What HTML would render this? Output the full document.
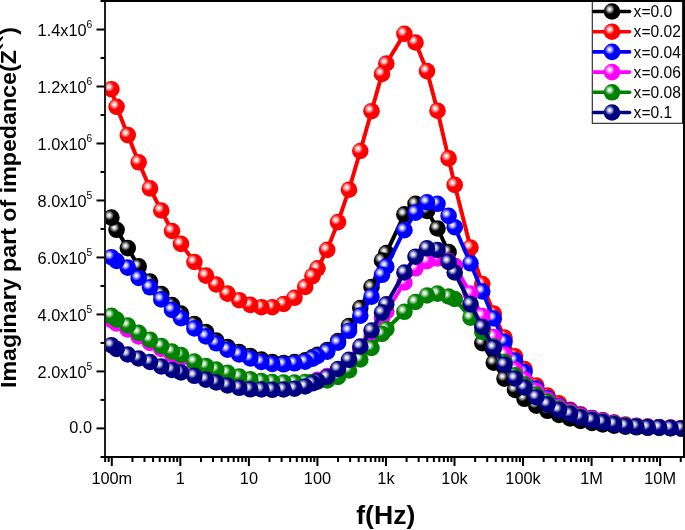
<!DOCTYPE html><html><head><meta charset="utf-8"><style>
html,body{margin:0;padding:0;background:#fff;}
svg{display:block;will-change:transform;}
text{font-family:"Liberation Sans",sans-serif;fill:#000;}
</style></head><body>
<svg width="685" height="530" viewBox="0 0 685 530">
<defs>
<radialGradient id="h" cx="0.5" cy="0.5" r="0.5">
<stop offset="0" stop-color="#fff" stop-opacity="1"/>
<stop offset="0.3" stop-color="#fff" stop-opacity="0.85"/>
<stop offset="1" stop-color="#fff" stop-opacity="0"/>
</radialGradient>
<clipPath id="plot"><rect x="105" y="1" width="578.5" height="456"/></clipPath>
</defs>
<rect width="685" height="530" fill="#fff"/>
<g clip-path="url(#plot)">
<path d="M111.4 217.6 L116.6 229.8 L127.8 248.1 L138.7 266.4 L150 281.5 L161.3 294 L172 305 L181 313.5 L194.4 324 L206 332 L216.3 340.5 L227.6 347 L239.2 352 L250.3 356 L261.4 359.5 L272.3 362 L283.6 363 L294.5 362 L305.2 360.3 L312.5 357.3 L317.5 354.8 L327.2 350 L338 341 L349 326 L360.3 308 L371.5 287 L382 260.5 L386.3 253 L404.4 214.4 L415.5 203.8 L427 211 L437.5 228.5 L448.6 252 L454.7 266 L470.5 308 L482.3 343.1 L493.8 362.7 L504.5 378.6 L515 390 L524.5 398.8 L536.3 405.6 L547.5 410.8 L559 414.9 L570.1 418.5 L580.5 421 L592 423 L602.8 424.5 L614.1 425.7 L625.4 426.7 L636.4 427.3 L647.7 427.8 L659.2 428 L670.5 428.3 L681.4 428.6" fill="none" stroke="#000000" stroke-width="4.0" stroke-linejoin="round"/>
<circle cx="681.4" cy="428.6" r="8.3" fill="#000000"/><circle cx="679.1" cy="426.3" r="5.0" fill="url(#h)"/><circle cx="670.5" cy="428.3" r="8.3" fill="#000000"/><circle cx="668.2" cy="426" r="5.0" fill="url(#h)"/><circle cx="659.2" cy="428" r="8.3" fill="#000000"/><circle cx="656.9" cy="425.7" r="5.0" fill="url(#h)"/><circle cx="647.7" cy="427.8" r="8.3" fill="#000000"/><circle cx="645.4" cy="425.5" r="5.0" fill="url(#h)"/><circle cx="636.4" cy="427.3" r="8.3" fill="#000000"/><circle cx="634.1" cy="425" r="5.0" fill="url(#h)"/><circle cx="625.4" cy="426.7" r="8.3" fill="#000000"/><circle cx="623.1" cy="424.4" r="5.0" fill="url(#h)"/><circle cx="614.1" cy="425.7" r="8.3" fill="#000000"/><circle cx="611.8" cy="423.4" r="5.0" fill="url(#h)"/><circle cx="602.8" cy="424.5" r="8.3" fill="#000000"/><circle cx="600.5" cy="422.2" r="5.0" fill="url(#h)"/><circle cx="592" cy="423" r="8.3" fill="#000000"/><circle cx="589.7" cy="420.7" r="5.0" fill="url(#h)"/><circle cx="580.5" cy="421" r="8.3" fill="#000000"/><circle cx="578.2" cy="418.7" r="5.0" fill="url(#h)"/><circle cx="570.1" cy="418.5" r="8.3" fill="#000000"/><circle cx="567.8" cy="416.2" r="5.0" fill="url(#h)"/><circle cx="559" cy="414.9" r="8.3" fill="#000000"/><circle cx="556.7" cy="412.6" r="5.0" fill="url(#h)"/><circle cx="547.5" cy="410.8" r="8.3" fill="#000000"/><circle cx="545.2" cy="408.5" r="5.0" fill="url(#h)"/><circle cx="536.3" cy="405.6" r="8.3" fill="#000000"/><circle cx="534" cy="403.3" r="5.0" fill="url(#h)"/><circle cx="524.5" cy="398.8" r="8.3" fill="#000000"/><circle cx="522.2" cy="396.5" r="5.0" fill="url(#h)"/><circle cx="515" cy="390" r="8.3" fill="#000000"/><circle cx="512.7" cy="387.7" r="5.0" fill="url(#h)"/><circle cx="504.5" cy="378.6" r="8.3" fill="#000000"/><circle cx="502.2" cy="376.3" r="5.0" fill="url(#h)"/><circle cx="493.8" cy="362.7" r="8.3" fill="#000000"/><circle cx="491.5" cy="360.4" r="5.0" fill="url(#h)"/><circle cx="482.3" cy="343.1" r="8.3" fill="#000000"/><circle cx="480" cy="340.8" r="5.0" fill="url(#h)"/><circle cx="470.5" cy="308" r="8.3" fill="#000000"/><circle cx="468.2" cy="305.7" r="5.0" fill="url(#h)"/><circle cx="454.7" cy="266" r="8.3" fill="#000000"/><circle cx="452.4" cy="263.7" r="5.0" fill="url(#h)"/><circle cx="448.6" cy="252" r="8.3" fill="#000000"/><circle cx="446.3" cy="249.7" r="5.0" fill="url(#h)"/><circle cx="437.5" cy="228.5" r="8.3" fill="#000000"/><circle cx="435.2" cy="226.2" r="5.0" fill="url(#h)"/><circle cx="427" cy="211" r="8.3" fill="#000000"/><circle cx="424.7" cy="208.7" r="5.0" fill="url(#h)"/><circle cx="415.5" cy="203.8" r="8.3" fill="#000000"/><circle cx="413.2" cy="201.5" r="5.0" fill="url(#h)"/><circle cx="404.4" cy="214.4" r="8.3" fill="#000000"/><circle cx="402.1" cy="212.1" r="5.0" fill="url(#h)"/><circle cx="386.3" cy="253" r="8.3" fill="#000000"/><circle cx="384" cy="250.7" r="5.0" fill="url(#h)"/><circle cx="382" cy="260.5" r="8.3" fill="#000000"/><circle cx="379.7" cy="258.2" r="5.0" fill="url(#h)"/><circle cx="371.5" cy="287" r="8.3" fill="#000000"/><circle cx="369.2" cy="284.7" r="5.0" fill="url(#h)"/><circle cx="360.3" cy="308" r="8.3" fill="#000000"/><circle cx="358" cy="305.7" r="5.0" fill="url(#h)"/><circle cx="349" cy="326" r="8.3" fill="#000000"/><circle cx="346.7" cy="323.7" r="5.0" fill="url(#h)"/><circle cx="338" cy="341" r="8.3" fill="#000000"/><circle cx="335.7" cy="338.7" r="5.0" fill="url(#h)"/><circle cx="327.2" cy="350" r="8.3" fill="#000000"/><circle cx="324.9" cy="347.7" r="5.0" fill="url(#h)"/><circle cx="317.5" cy="354.8" r="8.3" fill="#000000"/><circle cx="315.2" cy="352.5" r="5.0" fill="url(#h)"/><circle cx="312.5" cy="357.3" r="8.3" fill="#000000"/><circle cx="310.2" cy="355" r="5.0" fill="url(#h)"/><circle cx="305.2" cy="360.3" r="8.3" fill="#000000"/><circle cx="302.9" cy="358" r="5.0" fill="url(#h)"/><circle cx="294.5" cy="362" r="8.3" fill="#000000"/><circle cx="292.2" cy="359.7" r="5.0" fill="url(#h)"/><circle cx="283.6" cy="363" r="8.3" fill="#000000"/><circle cx="281.3" cy="360.7" r="5.0" fill="url(#h)"/><circle cx="272.3" cy="362" r="8.3" fill="#000000"/><circle cx="270" cy="359.7" r="5.0" fill="url(#h)"/><circle cx="261.4" cy="359.5" r="8.3" fill="#000000"/><circle cx="259.1" cy="357.2" r="5.0" fill="url(#h)"/><circle cx="250.3" cy="356" r="8.3" fill="#000000"/><circle cx="248" cy="353.7" r="5.0" fill="url(#h)"/><circle cx="239.2" cy="352" r="8.3" fill="#000000"/><circle cx="236.9" cy="349.7" r="5.0" fill="url(#h)"/><circle cx="227.6" cy="347" r="8.3" fill="#000000"/><circle cx="225.3" cy="344.7" r="5.0" fill="url(#h)"/><circle cx="216.3" cy="340.5" r="8.3" fill="#000000"/><circle cx="214" cy="338.2" r="5.0" fill="url(#h)"/><circle cx="206" cy="332" r="8.3" fill="#000000"/><circle cx="203.7" cy="329.7" r="5.0" fill="url(#h)"/><circle cx="194.4" cy="324" r="8.3" fill="#000000"/><circle cx="192.1" cy="321.7" r="5.0" fill="url(#h)"/><circle cx="181" cy="313.5" r="8.3" fill="#000000"/><circle cx="178.7" cy="311.2" r="5.0" fill="url(#h)"/><circle cx="172" cy="305" r="8.3" fill="#000000"/><circle cx="169.7" cy="302.7" r="5.0" fill="url(#h)"/><circle cx="161.3" cy="294" r="8.3" fill="#000000"/><circle cx="159" cy="291.7" r="5.0" fill="url(#h)"/><circle cx="150" cy="281.5" r="8.3" fill="#000000"/><circle cx="147.7" cy="279.2" r="5.0" fill="url(#h)"/><circle cx="138.7" cy="266.4" r="8.3" fill="#000000"/><circle cx="136.4" cy="264.1" r="5.0" fill="url(#h)"/><circle cx="127.8" cy="248.1" r="8.3" fill="#000000"/><circle cx="125.5" cy="245.8" r="5.0" fill="url(#h)"/><circle cx="116.6" cy="229.8" r="8.3" fill="#000000"/><circle cx="114.3" cy="227.5" r="5.0" fill="url(#h)"/><circle cx="111.4" cy="217.6" r="8.3" fill="#000000"/><circle cx="109.1" cy="215.3" r="5.0" fill="url(#h)"/>
<path d="M111.4 89.2 L116.6 106.8 L127.8 135.1 L138.7 162.3 L150 188.4 L161.3 210.5 L172 231 L181 243.9 L194.4 262 L206 275.6 L216.3 284.5 L227.6 293.6 L239.2 300.2 L250.3 304.9 L261.4 307.2 L272.3 307.2 L283.6 304 L294.5 297.8 L305.2 287 L312.5 276.2 L317.5 268.3 L327.2 249.9 L338 222.1 L349 189.7 L360.3 151 L371.5 111.2 L382 74 L386.3 63.5 L404.4 33.8 L415.5 42.5 L427 71.1 L437.5 110.7 L448.6 158.4 L454.7 184.9 L470.5 247.5 L482.3 284 L493.8 313.5 L504.5 337.5 L515 356.3 L524.5 369 L536.3 385.5 L547.5 395.6 L559 403.4 L570.1 409.8 L580.5 414.3 L592 418 L602.8 420.3 L614.1 422.5 L625.4 424.5 L636.4 425.7 L647.7 426.5 L659.2 427 L670.5 427.5 L681.4 428" fill="none" stroke="#ff0000" stroke-width="4.0" stroke-linejoin="round"/>
<circle cx="681.4" cy="428" r="8.3" fill="#ff0000"/><circle cx="679.1" cy="425.7" r="5.0" fill="url(#h)"/><circle cx="670.5" cy="427.5" r="8.3" fill="#ff0000"/><circle cx="668.2" cy="425.2" r="5.0" fill="url(#h)"/><circle cx="659.2" cy="427" r="8.3" fill="#ff0000"/><circle cx="656.9" cy="424.7" r="5.0" fill="url(#h)"/><circle cx="647.7" cy="426.5" r="8.3" fill="#ff0000"/><circle cx="645.4" cy="424.2" r="5.0" fill="url(#h)"/><circle cx="636.4" cy="425.7" r="8.3" fill="#ff0000"/><circle cx="634.1" cy="423.4" r="5.0" fill="url(#h)"/><circle cx="625.4" cy="424.5" r="8.3" fill="#ff0000"/><circle cx="623.1" cy="422.2" r="5.0" fill="url(#h)"/><circle cx="614.1" cy="422.5" r="8.3" fill="#ff0000"/><circle cx="611.8" cy="420.2" r="5.0" fill="url(#h)"/><circle cx="602.8" cy="420.3" r="8.3" fill="#ff0000"/><circle cx="600.5" cy="418" r="5.0" fill="url(#h)"/><circle cx="592" cy="418" r="8.3" fill="#ff0000"/><circle cx="589.7" cy="415.7" r="5.0" fill="url(#h)"/><circle cx="580.5" cy="414.3" r="8.3" fill="#ff0000"/><circle cx="578.2" cy="412" r="5.0" fill="url(#h)"/><circle cx="570.1" cy="409.8" r="8.3" fill="#ff0000"/><circle cx="567.8" cy="407.5" r="5.0" fill="url(#h)"/><circle cx="559" cy="403.4" r="8.3" fill="#ff0000"/><circle cx="556.7" cy="401.1" r="5.0" fill="url(#h)"/><circle cx="547.5" cy="395.6" r="8.3" fill="#ff0000"/><circle cx="545.2" cy="393.3" r="5.0" fill="url(#h)"/><circle cx="536.3" cy="385.5" r="8.3" fill="#ff0000"/><circle cx="534" cy="383.2" r="5.0" fill="url(#h)"/><circle cx="524.5" cy="369" r="8.3" fill="#ff0000"/><circle cx="522.2" cy="366.7" r="5.0" fill="url(#h)"/><circle cx="515" cy="356.3" r="8.3" fill="#ff0000"/><circle cx="512.7" cy="354" r="5.0" fill="url(#h)"/><circle cx="504.5" cy="337.5" r="8.3" fill="#ff0000"/><circle cx="502.2" cy="335.2" r="5.0" fill="url(#h)"/><circle cx="493.8" cy="313.5" r="8.3" fill="#ff0000"/><circle cx="491.5" cy="311.2" r="5.0" fill="url(#h)"/><circle cx="482.3" cy="284" r="8.3" fill="#ff0000"/><circle cx="480" cy="281.7" r="5.0" fill="url(#h)"/><circle cx="470.5" cy="247.5" r="8.3" fill="#ff0000"/><circle cx="468.2" cy="245.2" r="5.0" fill="url(#h)"/><circle cx="454.7" cy="184.9" r="8.3" fill="#ff0000"/><circle cx="452.4" cy="182.6" r="5.0" fill="url(#h)"/><circle cx="448.6" cy="158.4" r="8.3" fill="#ff0000"/><circle cx="446.3" cy="156.1" r="5.0" fill="url(#h)"/><circle cx="437.5" cy="110.7" r="8.3" fill="#ff0000"/><circle cx="435.2" cy="108.4" r="5.0" fill="url(#h)"/><circle cx="427" cy="71.1" r="8.3" fill="#ff0000"/><circle cx="424.7" cy="68.8" r="5.0" fill="url(#h)"/><circle cx="415.5" cy="42.5" r="8.3" fill="#ff0000"/><circle cx="413.2" cy="40.2" r="5.0" fill="url(#h)"/><circle cx="404.4" cy="33.8" r="8.3" fill="#ff0000"/><circle cx="402.1" cy="31.5" r="5.0" fill="url(#h)"/><circle cx="386.3" cy="63.5" r="8.3" fill="#ff0000"/><circle cx="384" cy="61.2" r="5.0" fill="url(#h)"/><circle cx="382" cy="74" r="8.3" fill="#ff0000"/><circle cx="379.7" cy="71.7" r="5.0" fill="url(#h)"/><circle cx="371.5" cy="111.2" r="8.3" fill="#ff0000"/><circle cx="369.2" cy="108.9" r="5.0" fill="url(#h)"/><circle cx="360.3" cy="151" r="8.3" fill="#ff0000"/><circle cx="358" cy="148.7" r="5.0" fill="url(#h)"/><circle cx="349" cy="189.7" r="8.3" fill="#ff0000"/><circle cx="346.7" cy="187.4" r="5.0" fill="url(#h)"/><circle cx="338" cy="222.1" r="8.3" fill="#ff0000"/><circle cx="335.7" cy="219.8" r="5.0" fill="url(#h)"/><circle cx="327.2" cy="249.9" r="8.3" fill="#ff0000"/><circle cx="324.9" cy="247.6" r="5.0" fill="url(#h)"/><circle cx="317.5" cy="268.3" r="8.3" fill="#ff0000"/><circle cx="315.2" cy="266" r="5.0" fill="url(#h)"/><circle cx="312.5" cy="276.2" r="8.3" fill="#ff0000"/><circle cx="310.2" cy="273.9" r="5.0" fill="url(#h)"/><circle cx="305.2" cy="287" r="8.3" fill="#ff0000"/><circle cx="302.9" cy="284.7" r="5.0" fill="url(#h)"/><circle cx="294.5" cy="297.8" r="8.3" fill="#ff0000"/><circle cx="292.2" cy="295.5" r="5.0" fill="url(#h)"/><circle cx="283.6" cy="304" r="8.3" fill="#ff0000"/><circle cx="281.3" cy="301.7" r="5.0" fill="url(#h)"/><circle cx="272.3" cy="307.2" r="8.3" fill="#ff0000"/><circle cx="270" cy="304.9" r="5.0" fill="url(#h)"/><circle cx="261.4" cy="307.2" r="8.3" fill="#ff0000"/><circle cx="259.1" cy="304.9" r="5.0" fill="url(#h)"/><circle cx="250.3" cy="304.9" r="8.3" fill="#ff0000"/><circle cx="248" cy="302.6" r="5.0" fill="url(#h)"/><circle cx="239.2" cy="300.2" r="8.3" fill="#ff0000"/><circle cx="236.9" cy="297.9" r="5.0" fill="url(#h)"/><circle cx="227.6" cy="293.6" r="8.3" fill="#ff0000"/><circle cx="225.3" cy="291.3" r="5.0" fill="url(#h)"/><circle cx="216.3" cy="284.5" r="8.3" fill="#ff0000"/><circle cx="214" cy="282.2" r="5.0" fill="url(#h)"/><circle cx="206" cy="275.6" r="8.3" fill="#ff0000"/><circle cx="203.7" cy="273.3" r="5.0" fill="url(#h)"/><circle cx="194.4" cy="262" r="8.3" fill="#ff0000"/><circle cx="192.1" cy="259.7" r="5.0" fill="url(#h)"/><circle cx="181" cy="243.9" r="8.3" fill="#ff0000"/><circle cx="178.7" cy="241.6" r="5.0" fill="url(#h)"/><circle cx="172" cy="231" r="8.3" fill="#ff0000"/><circle cx="169.7" cy="228.7" r="5.0" fill="url(#h)"/><circle cx="161.3" cy="210.5" r="8.3" fill="#ff0000"/><circle cx="159" cy="208.2" r="5.0" fill="url(#h)"/><circle cx="150" cy="188.4" r="8.3" fill="#ff0000"/><circle cx="147.7" cy="186.1" r="5.0" fill="url(#h)"/><circle cx="138.7" cy="162.3" r="8.3" fill="#ff0000"/><circle cx="136.4" cy="160" r="5.0" fill="url(#h)"/><circle cx="127.8" cy="135.1" r="8.3" fill="#ff0000"/><circle cx="125.5" cy="132.8" r="5.0" fill="url(#h)"/><circle cx="116.6" cy="106.8" r="8.3" fill="#ff0000"/><circle cx="114.3" cy="104.5" r="5.0" fill="url(#h)"/><circle cx="111.4" cy="89.2" r="8.3" fill="#ff0000"/><circle cx="109.1" cy="86.9" r="5.0" fill="url(#h)"/>
<path d="M111.4 257.2 L116.6 261 L127.8 267.6 L138.7 278 L150 287.3 L161.3 299.4 L172 309.9 L181 318.2 L194.4 328.4 L206 336.4 L216.3 343.3 L227.6 349.7 L239.2 354.4 L250.3 358.5 L261.4 362 L272.3 364 L283.6 364.3 L294.5 363.3 L305.2 361.7 L312.5 358.6 L317.5 356 L327.2 351.6 L338 342.7 L349 330.8 L360.3 315.6 L371.5 296.7 L382 274.8 L386.3 266.5 L404.4 230.2 L415.5 212.6 L427 202.3 L437.5 203.8 L448.6 215.9 L454.7 227.2 L470.5 263.3 L482.3 291.5 L493.8 318.5 L504.5 341.8 L515 360.5 L524.5 372 L536.3 388.5 L547.5 398 L559 406 L570.1 410.8 L580.5 415 L592 418.4 L602.8 420.6 L614.1 422.8 L625.4 425 L636.4 426 L647.7 426.8 L659.2 427.2 L670.5 427.7 L681.4 428.2" fill="none" stroke="#0000ff" stroke-width="4.0" stroke-linejoin="round"/>
<circle cx="681.4" cy="428.2" r="8.3" fill="#0000ff"/><circle cx="679.1" cy="425.9" r="5.0" fill="url(#h)"/><circle cx="670.5" cy="427.7" r="8.3" fill="#0000ff"/><circle cx="668.2" cy="425.4" r="5.0" fill="url(#h)"/><circle cx="659.2" cy="427.2" r="8.3" fill="#0000ff"/><circle cx="656.9" cy="424.9" r="5.0" fill="url(#h)"/><circle cx="647.7" cy="426.8" r="8.3" fill="#0000ff"/><circle cx="645.4" cy="424.5" r="5.0" fill="url(#h)"/><circle cx="636.4" cy="426" r="8.3" fill="#0000ff"/><circle cx="634.1" cy="423.7" r="5.0" fill="url(#h)"/><circle cx="625.4" cy="425" r="8.3" fill="#0000ff"/><circle cx="623.1" cy="422.7" r="5.0" fill="url(#h)"/><circle cx="614.1" cy="422.8" r="8.3" fill="#0000ff"/><circle cx="611.8" cy="420.5" r="5.0" fill="url(#h)"/><circle cx="602.8" cy="420.6" r="8.3" fill="#0000ff"/><circle cx="600.5" cy="418.3" r="5.0" fill="url(#h)"/><circle cx="592" cy="418.4" r="8.3" fill="#0000ff"/><circle cx="589.7" cy="416.1" r="5.0" fill="url(#h)"/><circle cx="580.5" cy="415" r="8.3" fill="#0000ff"/><circle cx="578.2" cy="412.7" r="5.0" fill="url(#h)"/><circle cx="570.1" cy="410.8" r="8.3" fill="#0000ff"/><circle cx="567.8" cy="408.5" r="5.0" fill="url(#h)"/><circle cx="559" cy="406" r="8.3" fill="#0000ff"/><circle cx="556.7" cy="403.7" r="5.0" fill="url(#h)"/><circle cx="547.5" cy="398" r="8.3" fill="#0000ff"/><circle cx="545.2" cy="395.7" r="5.0" fill="url(#h)"/><circle cx="536.3" cy="388.5" r="8.3" fill="#0000ff"/><circle cx="534" cy="386.2" r="5.0" fill="url(#h)"/><circle cx="524.5" cy="372" r="8.3" fill="#0000ff"/><circle cx="522.2" cy="369.7" r="5.0" fill="url(#h)"/><circle cx="515" cy="360.5" r="8.3" fill="#0000ff"/><circle cx="512.7" cy="358.2" r="5.0" fill="url(#h)"/><circle cx="504.5" cy="341.8" r="8.3" fill="#0000ff"/><circle cx="502.2" cy="339.5" r="5.0" fill="url(#h)"/><circle cx="493.8" cy="318.5" r="8.3" fill="#0000ff"/><circle cx="491.5" cy="316.2" r="5.0" fill="url(#h)"/><circle cx="482.3" cy="291.5" r="8.3" fill="#0000ff"/><circle cx="480" cy="289.2" r="5.0" fill="url(#h)"/><circle cx="470.5" cy="263.3" r="8.3" fill="#0000ff"/><circle cx="468.2" cy="261" r="5.0" fill="url(#h)"/><circle cx="454.7" cy="227.2" r="8.3" fill="#0000ff"/><circle cx="452.4" cy="224.9" r="5.0" fill="url(#h)"/><circle cx="448.6" cy="215.9" r="8.3" fill="#0000ff"/><circle cx="446.3" cy="213.6" r="5.0" fill="url(#h)"/><circle cx="437.5" cy="203.8" r="8.3" fill="#0000ff"/><circle cx="435.2" cy="201.5" r="5.0" fill="url(#h)"/><circle cx="427" cy="202.3" r="8.3" fill="#0000ff"/><circle cx="424.7" cy="200" r="5.0" fill="url(#h)"/><circle cx="415.5" cy="212.6" r="8.3" fill="#0000ff"/><circle cx="413.2" cy="210.3" r="5.0" fill="url(#h)"/><circle cx="404.4" cy="230.2" r="8.3" fill="#0000ff"/><circle cx="402.1" cy="227.9" r="5.0" fill="url(#h)"/><circle cx="386.3" cy="266.5" r="8.3" fill="#0000ff"/><circle cx="384" cy="264.2" r="5.0" fill="url(#h)"/><circle cx="382" cy="274.8" r="8.3" fill="#0000ff"/><circle cx="379.7" cy="272.5" r="5.0" fill="url(#h)"/><circle cx="371.5" cy="296.7" r="8.3" fill="#0000ff"/><circle cx="369.2" cy="294.4" r="5.0" fill="url(#h)"/><circle cx="360.3" cy="315.6" r="8.3" fill="#0000ff"/><circle cx="358" cy="313.3" r="5.0" fill="url(#h)"/><circle cx="349" cy="330.8" r="8.3" fill="#0000ff"/><circle cx="346.7" cy="328.5" r="5.0" fill="url(#h)"/><circle cx="338" cy="342.7" r="8.3" fill="#0000ff"/><circle cx="335.7" cy="340.4" r="5.0" fill="url(#h)"/><circle cx="327.2" cy="351.6" r="8.3" fill="#0000ff"/><circle cx="324.9" cy="349.3" r="5.0" fill="url(#h)"/><circle cx="317.5" cy="356" r="8.3" fill="#0000ff"/><circle cx="315.2" cy="353.7" r="5.0" fill="url(#h)"/><circle cx="312.5" cy="358.6" r="8.3" fill="#0000ff"/><circle cx="310.2" cy="356.3" r="5.0" fill="url(#h)"/><circle cx="305.2" cy="361.7" r="8.3" fill="#0000ff"/><circle cx="302.9" cy="359.4" r="5.0" fill="url(#h)"/><circle cx="294.5" cy="363.3" r="8.3" fill="#0000ff"/><circle cx="292.2" cy="361" r="5.0" fill="url(#h)"/><circle cx="283.6" cy="364.3" r="8.3" fill="#0000ff"/><circle cx="281.3" cy="362" r="5.0" fill="url(#h)"/><circle cx="272.3" cy="364" r="8.3" fill="#0000ff"/><circle cx="270" cy="361.7" r="5.0" fill="url(#h)"/><circle cx="261.4" cy="362" r="8.3" fill="#0000ff"/><circle cx="259.1" cy="359.7" r="5.0" fill="url(#h)"/><circle cx="250.3" cy="358.5" r="8.3" fill="#0000ff"/><circle cx="248" cy="356.2" r="5.0" fill="url(#h)"/><circle cx="239.2" cy="354.4" r="8.3" fill="#0000ff"/><circle cx="236.9" cy="352.1" r="5.0" fill="url(#h)"/><circle cx="227.6" cy="349.7" r="8.3" fill="#0000ff"/><circle cx="225.3" cy="347.4" r="5.0" fill="url(#h)"/><circle cx="216.3" cy="343.3" r="8.3" fill="#0000ff"/><circle cx="214" cy="341" r="5.0" fill="url(#h)"/><circle cx="206" cy="336.4" r="8.3" fill="#0000ff"/><circle cx="203.7" cy="334.1" r="5.0" fill="url(#h)"/><circle cx="194.4" cy="328.4" r="8.3" fill="#0000ff"/><circle cx="192.1" cy="326.1" r="5.0" fill="url(#h)"/><circle cx="181" cy="318.2" r="8.3" fill="#0000ff"/><circle cx="178.7" cy="315.9" r="5.0" fill="url(#h)"/><circle cx="172" cy="309.9" r="8.3" fill="#0000ff"/><circle cx="169.7" cy="307.6" r="5.0" fill="url(#h)"/><circle cx="161.3" cy="299.4" r="8.3" fill="#0000ff"/><circle cx="159" cy="297.1" r="5.0" fill="url(#h)"/><circle cx="150" cy="287.3" r="8.3" fill="#0000ff"/><circle cx="147.7" cy="285" r="5.0" fill="url(#h)"/><circle cx="138.7" cy="278" r="8.3" fill="#0000ff"/><circle cx="136.4" cy="275.7" r="5.0" fill="url(#h)"/><circle cx="127.8" cy="267.6" r="8.3" fill="#0000ff"/><circle cx="125.5" cy="265.3" r="5.0" fill="url(#h)"/><circle cx="116.6" cy="261" r="8.3" fill="#0000ff"/><circle cx="114.3" cy="258.7" r="5.0" fill="url(#h)"/><circle cx="111.4" cy="257.2" r="8.3" fill="#0000ff"/><circle cx="109.1" cy="254.9" r="5.0" fill="url(#h)"/>
<path d="M111.4 320 L116.6 323.5 L127.8 329.5 L138.7 336.5 L150 343 L161.3 349 L172 354.5 L181 358 L194.4 364 L206 368.5 L216.3 372.5 L227.6 376 L239.2 379 L250.3 381.5 L261.4 383 L272.3 384 L283.6 384.3 L294.5 386.3 L305.2 385 L312.5 382 L317.5 379.8 L327.2 376 L338 370 L349 362 L360.3 350 L371.5 336.5 L382 318 L386.3 311.5 L404.4 282.5 L415.5 268.3 L427 261.2 L437.5 258.4 L448.6 261 L454.7 266 L470.5 293.6 L482.3 316 L493.8 337 L504.5 354.5 L515 369.5 L524.5 379.5 L536.3 391 L547.5 399.5 L559 407 L570.1 411.5 L580.5 415.5 L592 418.8 L602.8 421 L614.1 423.2 L625.4 425.2 L636.4 426.2 L647.7 427 L659.2 427.3 L670.5 427.8 L681.4 428.3" fill="none" stroke="#ff00ff" stroke-width="4.0" stroke-linejoin="round"/>
<circle cx="681.4" cy="428.3" r="8.3" fill="#ff00ff"/><circle cx="679.1" cy="426" r="5.0" fill="url(#h)"/><circle cx="670.5" cy="427.8" r="8.3" fill="#ff00ff"/><circle cx="668.2" cy="425.5" r="5.0" fill="url(#h)"/><circle cx="659.2" cy="427.3" r="8.3" fill="#ff00ff"/><circle cx="656.9" cy="425" r="5.0" fill="url(#h)"/><circle cx="647.7" cy="427" r="8.3" fill="#ff00ff"/><circle cx="645.4" cy="424.7" r="5.0" fill="url(#h)"/><circle cx="636.4" cy="426.2" r="8.3" fill="#ff00ff"/><circle cx="634.1" cy="423.9" r="5.0" fill="url(#h)"/><circle cx="625.4" cy="425.2" r="8.3" fill="#ff00ff"/><circle cx="623.1" cy="422.9" r="5.0" fill="url(#h)"/><circle cx="614.1" cy="423.2" r="8.3" fill="#ff00ff"/><circle cx="611.8" cy="420.9" r="5.0" fill="url(#h)"/><circle cx="602.8" cy="421" r="8.3" fill="#ff00ff"/><circle cx="600.5" cy="418.7" r="5.0" fill="url(#h)"/><circle cx="592" cy="418.8" r="8.3" fill="#ff00ff"/><circle cx="589.7" cy="416.5" r="5.0" fill="url(#h)"/><circle cx="580.5" cy="415.5" r="8.3" fill="#ff00ff"/><circle cx="578.2" cy="413.2" r="5.0" fill="url(#h)"/><circle cx="570.1" cy="411.5" r="8.3" fill="#ff00ff"/><circle cx="567.8" cy="409.2" r="5.0" fill="url(#h)"/><circle cx="559" cy="407" r="8.3" fill="#ff00ff"/><circle cx="556.7" cy="404.7" r="5.0" fill="url(#h)"/><circle cx="547.5" cy="399.5" r="8.3" fill="#ff00ff"/><circle cx="545.2" cy="397.2" r="5.0" fill="url(#h)"/><circle cx="536.3" cy="391" r="8.3" fill="#ff00ff"/><circle cx="534" cy="388.7" r="5.0" fill="url(#h)"/><circle cx="524.5" cy="379.5" r="8.3" fill="#ff00ff"/><circle cx="522.2" cy="377.2" r="5.0" fill="url(#h)"/><circle cx="515" cy="369.5" r="8.3" fill="#ff00ff"/><circle cx="512.7" cy="367.2" r="5.0" fill="url(#h)"/><circle cx="504.5" cy="354.5" r="8.3" fill="#ff00ff"/><circle cx="502.2" cy="352.2" r="5.0" fill="url(#h)"/><circle cx="493.8" cy="337" r="8.3" fill="#ff00ff"/><circle cx="491.5" cy="334.7" r="5.0" fill="url(#h)"/><circle cx="482.3" cy="316" r="8.3" fill="#ff00ff"/><circle cx="480" cy="313.7" r="5.0" fill="url(#h)"/><circle cx="470.5" cy="293.6" r="8.3" fill="#ff00ff"/><circle cx="468.2" cy="291.3" r="5.0" fill="url(#h)"/><circle cx="454.7" cy="266" r="8.3" fill="#ff00ff"/><circle cx="452.4" cy="263.7" r="5.0" fill="url(#h)"/><circle cx="448.6" cy="261" r="8.3" fill="#ff00ff"/><circle cx="446.3" cy="258.7" r="5.0" fill="url(#h)"/><circle cx="437.5" cy="258.4" r="8.3" fill="#ff00ff"/><circle cx="435.2" cy="256.1" r="5.0" fill="url(#h)"/><circle cx="427" cy="261.2" r="8.3" fill="#ff00ff"/><circle cx="424.7" cy="258.9" r="5.0" fill="url(#h)"/><circle cx="415.5" cy="268.3" r="8.3" fill="#ff00ff"/><circle cx="413.2" cy="266" r="5.0" fill="url(#h)"/><circle cx="404.4" cy="282.5" r="8.3" fill="#ff00ff"/><circle cx="402.1" cy="280.2" r="5.0" fill="url(#h)"/><circle cx="386.3" cy="311.5" r="8.3" fill="#ff00ff"/><circle cx="384" cy="309.2" r="5.0" fill="url(#h)"/><circle cx="382" cy="318" r="8.3" fill="#ff00ff"/><circle cx="379.7" cy="315.7" r="5.0" fill="url(#h)"/><circle cx="371.5" cy="336.5" r="8.3" fill="#ff00ff"/><circle cx="369.2" cy="334.2" r="5.0" fill="url(#h)"/><circle cx="360.3" cy="350" r="8.3" fill="#ff00ff"/><circle cx="358" cy="347.7" r="5.0" fill="url(#h)"/><circle cx="349" cy="362" r="8.3" fill="#ff00ff"/><circle cx="346.7" cy="359.7" r="5.0" fill="url(#h)"/><circle cx="338" cy="370" r="8.3" fill="#ff00ff"/><circle cx="335.7" cy="367.7" r="5.0" fill="url(#h)"/><circle cx="327.2" cy="376" r="8.3" fill="#ff00ff"/><circle cx="324.9" cy="373.7" r="5.0" fill="url(#h)"/><circle cx="317.5" cy="379.8" r="8.3" fill="#ff00ff"/><circle cx="315.2" cy="377.5" r="5.0" fill="url(#h)"/><circle cx="312.5" cy="382" r="8.3" fill="#ff00ff"/><circle cx="310.2" cy="379.7" r="5.0" fill="url(#h)"/><circle cx="305.2" cy="385" r="8.3" fill="#ff00ff"/><circle cx="302.9" cy="382.7" r="5.0" fill="url(#h)"/><circle cx="294.5" cy="386.3" r="8.3" fill="#ff00ff"/><circle cx="292.2" cy="384" r="5.0" fill="url(#h)"/><circle cx="283.6" cy="384.3" r="8.3" fill="#ff00ff"/><circle cx="281.3" cy="382" r="5.0" fill="url(#h)"/><circle cx="272.3" cy="384" r="8.3" fill="#ff00ff"/><circle cx="270" cy="381.7" r="5.0" fill="url(#h)"/><circle cx="261.4" cy="383" r="8.3" fill="#ff00ff"/><circle cx="259.1" cy="380.7" r="5.0" fill="url(#h)"/><circle cx="250.3" cy="381.5" r="8.3" fill="#ff00ff"/><circle cx="248" cy="379.2" r="5.0" fill="url(#h)"/><circle cx="239.2" cy="379" r="8.3" fill="#ff00ff"/><circle cx="236.9" cy="376.7" r="5.0" fill="url(#h)"/><circle cx="227.6" cy="376" r="8.3" fill="#ff00ff"/><circle cx="225.3" cy="373.7" r="5.0" fill="url(#h)"/><circle cx="216.3" cy="372.5" r="8.3" fill="#ff00ff"/><circle cx="214" cy="370.2" r="5.0" fill="url(#h)"/><circle cx="206" cy="368.5" r="8.3" fill="#ff00ff"/><circle cx="203.7" cy="366.2" r="5.0" fill="url(#h)"/><circle cx="194.4" cy="364" r="8.3" fill="#ff00ff"/><circle cx="192.1" cy="361.7" r="5.0" fill="url(#h)"/><circle cx="181" cy="358" r="8.3" fill="#ff00ff"/><circle cx="178.7" cy="355.7" r="5.0" fill="url(#h)"/><circle cx="172" cy="354.5" r="8.3" fill="#ff00ff"/><circle cx="169.7" cy="352.2" r="5.0" fill="url(#h)"/><circle cx="161.3" cy="349" r="8.3" fill="#ff00ff"/><circle cx="159" cy="346.7" r="5.0" fill="url(#h)"/><circle cx="150" cy="343" r="8.3" fill="#ff00ff"/><circle cx="147.7" cy="340.7" r="5.0" fill="url(#h)"/><circle cx="138.7" cy="336.5" r="8.3" fill="#ff00ff"/><circle cx="136.4" cy="334.2" r="5.0" fill="url(#h)"/><circle cx="127.8" cy="329.5" r="8.3" fill="#ff00ff"/><circle cx="125.5" cy="327.2" r="5.0" fill="url(#h)"/><circle cx="116.6" cy="323.5" r="8.3" fill="#ff00ff"/><circle cx="114.3" cy="321.2" r="5.0" fill="url(#h)"/><circle cx="111.4" cy="320" r="8.3" fill="#ff00ff"/><circle cx="109.1" cy="317.7" r="5.0" fill="url(#h)"/>
<path d="M111.4 315.8 L116.6 319.5 L127.8 325.5 L138.7 332.8 L150 339.7 L161.3 346 L172 351.5 L181 355 L194.4 361.6 L206 366 L216.3 369.5 L227.6 372.8 L239.2 376.5 L250.3 379.3 L261.4 381 L272.3 382 L283.6 382.5 L294.5 382.5 L305.2 382 L312.5 382 L317.5 381.7 L327.2 380.5 L338 377 L349 370.5 L360.3 359.5 L371.5 348 L382 334 L386.3 329.2 L404.4 311.8 L415.5 302 L427 295.5 L437.5 293.6 L448.6 296.5 L454.7 299 L470.5 317.7 L482.3 332 L493.8 346.5 L504.5 362 L515 375.4 L524.5 384.5 L536.3 394.5 L547.5 401.5 L559 408.7 L570.1 413 L580.5 416.8 L592 419.8 L602.8 421.8 L614.1 423.8 L625.4 425.5 L636.4 426.5 L647.7 427.2 L659.2 427.5 L670.5 428 L681.4 428.5" fill="none" stroke="#008000" stroke-width="4.0" stroke-linejoin="round"/>
<circle cx="681.4" cy="428.5" r="8.3" fill="#008000"/><circle cx="679.1" cy="426.2" r="5.0" fill="url(#h)"/><circle cx="670.5" cy="428" r="8.3" fill="#008000"/><circle cx="668.2" cy="425.7" r="5.0" fill="url(#h)"/><circle cx="659.2" cy="427.5" r="8.3" fill="#008000"/><circle cx="656.9" cy="425.2" r="5.0" fill="url(#h)"/><circle cx="647.7" cy="427.2" r="8.3" fill="#008000"/><circle cx="645.4" cy="424.9" r="5.0" fill="url(#h)"/><circle cx="636.4" cy="426.5" r="8.3" fill="#008000"/><circle cx="634.1" cy="424.2" r="5.0" fill="url(#h)"/><circle cx="625.4" cy="425.5" r="8.3" fill="#008000"/><circle cx="623.1" cy="423.2" r="5.0" fill="url(#h)"/><circle cx="614.1" cy="423.8" r="8.3" fill="#008000"/><circle cx="611.8" cy="421.5" r="5.0" fill="url(#h)"/><circle cx="602.8" cy="421.8" r="8.3" fill="#008000"/><circle cx="600.5" cy="419.5" r="5.0" fill="url(#h)"/><circle cx="592" cy="419.8" r="8.3" fill="#008000"/><circle cx="589.7" cy="417.5" r="5.0" fill="url(#h)"/><circle cx="580.5" cy="416.8" r="8.3" fill="#008000"/><circle cx="578.2" cy="414.5" r="5.0" fill="url(#h)"/><circle cx="570.1" cy="413" r="8.3" fill="#008000"/><circle cx="567.8" cy="410.7" r="5.0" fill="url(#h)"/><circle cx="559" cy="408.7" r="8.3" fill="#008000"/><circle cx="556.7" cy="406.4" r="5.0" fill="url(#h)"/><circle cx="547.5" cy="401.5" r="8.3" fill="#008000"/><circle cx="545.2" cy="399.2" r="5.0" fill="url(#h)"/><circle cx="536.3" cy="394.5" r="8.3" fill="#008000"/><circle cx="534" cy="392.2" r="5.0" fill="url(#h)"/><circle cx="524.5" cy="384.5" r="8.3" fill="#008000"/><circle cx="522.2" cy="382.2" r="5.0" fill="url(#h)"/><circle cx="515" cy="375.4" r="8.3" fill="#008000"/><circle cx="512.7" cy="373.1" r="5.0" fill="url(#h)"/><circle cx="504.5" cy="362" r="8.3" fill="#008000"/><circle cx="502.2" cy="359.7" r="5.0" fill="url(#h)"/><circle cx="493.8" cy="346.5" r="8.3" fill="#008000"/><circle cx="491.5" cy="344.2" r="5.0" fill="url(#h)"/><circle cx="482.3" cy="332" r="8.3" fill="#008000"/><circle cx="480" cy="329.7" r="5.0" fill="url(#h)"/><circle cx="470.5" cy="317.7" r="8.3" fill="#008000"/><circle cx="468.2" cy="315.4" r="5.0" fill="url(#h)"/><circle cx="454.7" cy="299" r="8.3" fill="#008000"/><circle cx="452.4" cy="296.7" r="5.0" fill="url(#h)"/><circle cx="448.6" cy="296.5" r="8.3" fill="#008000"/><circle cx="446.3" cy="294.2" r="5.0" fill="url(#h)"/><circle cx="437.5" cy="293.6" r="8.3" fill="#008000"/><circle cx="435.2" cy="291.3" r="5.0" fill="url(#h)"/><circle cx="427" cy="295.5" r="8.3" fill="#008000"/><circle cx="424.7" cy="293.2" r="5.0" fill="url(#h)"/><circle cx="415.5" cy="302" r="8.3" fill="#008000"/><circle cx="413.2" cy="299.7" r="5.0" fill="url(#h)"/><circle cx="404.4" cy="311.8" r="8.3" fill="#008000"/><circle cx="402.1" cy="309.5" r="5.0" fill="url(#h)"/><circle cx="386.3" cy="329.2" r="8.3" fill="#008000"/><circle cx="384" cy="326.9" r="5.0" fill="url(#h)"/><circle cx="382" cy="334" r="8.3" fill="#008000"/><circle cx="379.7" cy="331.7" r="5.0" fill="url(#h)"/><circle cx="371.5" cy="348" r="8.3" fill="#008000"/><circle cx="369.2" cy="345.7" r="5.0" fill="url(#h)"/><circle cx="360.3" cy="359.5" r="8.3" fill="#008000"/><circle cx="358" cy="357.2" r="5.0" fill="url(#h)"/><circle cx="349" cy="370.5" r="8.3" fill="#008000"/><circle cx="346.7" cy="368.2" r="5.0" fill="url(#h)"/><circle cx="338" cy="377" r="8.3" fill="#008000"/><circle cx="335.7" cy="374.7" r="5.0" fill="url(#h)"/><circle cx="327.2" cy="380.5" r="8.3" fill="#008000"/><circle cx="324.9" cy="378.2" r="5.0" fill="url(#h)"/><circle cx="317.5" cy="381.7" r="8.3" fill="#008000"/><circle cx="315.2" cy="379.4" r="5.0" fill="url(#h)"/><circle cx="312.5" cy="382" r="8.3" fill="#008000"/><circle cx="310.2" cy="379.7" r="5.0" fill="url(#h)"/><circle cx="305.2" cy="382" r="8.3" fill="#008000"/><circle cx="302.9" cy="379.7" r="5.0" fill="url(#h)"/><circle cx="294.5" cy="382.5" r="8.3" fill="#008000"/><circle cx="292.2" cy="380.2" r="5.0" fill="url(#h)"/><circle cx="283.6" cy="382.5" r="8.3" fill="#008000"/><circle cx="281.3" cy="380.2" r="5.0" fill="url(#h)"/><circle cx="272.3" cy="382" r="8.3" fill="#008000"/><circle cx="270" cy="379.7" r="5.0" fill="url(#h)"/><circle cx="261.4" cy="381" r="8.3" fill="#008000"/><circle cx="259.1" cy="378.7" r="5.0" fill="url(#h)"/><circle cx="250.3" cy="379.3" r="8.3" fill="#008000"/><circle cx="248" cy="377" r="5.0" fill="url(#h)"/><circle cx="239.2" cy="376.5" r="8.3" fill="#008000"/><circle cx="236.9" cy="374.2" r="5.0" fill="url(#h)"/><circle cx="227.6" cy="372.8" r="8.3" fill="#008000"/><circle cx="225.3" cy="370.5" r="5.0" fill="url(#h)"/><circle cx="216.3" cy="369.5" r="8.3" fill="#008000"/><circle cx="214" cy="367.2" r="5.0" fill="url(#h)"/><circle cx="206" cy="366" r="8.3" fill="#008000"/><circle cx="203.7" cy="363.7" r="5.0" fill="url(#h)"/><circle cx="194.4" cy="361.6" r="8.3" fill="#008000"/><circle cx="192.1" cy="359.3" r="5.0" fill="url(#h)"/><circle cx="181" cy="355" r="8.3" fill="#008000"/><circle cx="178.7" cy="352.7" r="5.0" fill="url(#h)"/><circle cx="172" cy="351.5" r="8.3" fill="#008000"/><circle cx="169.7" cy="349.2" r="5.0" fill="url(#h)"/><circle cx="161.3" cy="346" r="8.3" fill="#008000"/><circle cx="159" cy="343.7" r="5.0" fill="url(#h)"/><circle cx="150" cy="339.7" r="8.3" fill="#008000"/><circle cx="147.7" cy="337.4" r="5.0" fill="url(#h)"/><circle cx="138.7" cy="332.8" r="8.3" fill="#008000"/><circle cx="136.4" cy="330.5" r="5.0" fill="url(#h)"/><circle cx="127.8" cy="325.5" r="8.3" fill="#008000"/><circle cx="125.5" cy="323.2" r="5.0" fill="url(#h)"/><circle cx="116.6" cy="319.5" r="8.3" fill="#008000"/><circle cx="114.3" cy="317.2" r="5.0" fill="url(#h)"/><circle cx="111.4" cy="315.8" r="8.3" fill="#008000"/><circle cx="109.1" cy="313.5" r="5.0" fill="url(#h)"/>
<path d="M111.4 345.2 L116.6 349 L127.8 354.5 L138.7 358.5 L150 362 L161.3 366.5 L172 370 L181 372.5 L194.4 375.8 L206 379.6 L216.3 382.4 L227.6 385.5 L239.2 387.8 L250.3 389.3 L261.4 389.5 L272.3 389.8 L283.6 389.5 L294.5 388.7 L305.2 386.5 L312.5 383.3 L317.5 381 L327.2 377 L338 369 L349 359.8 L360.3 346.5 L371.5 330.5 L382 312.6 L386.3 304.3 L404.4 272.5 L415.5 256.7 L427 248.3 L437.5 250 L448.6 261.9 L454.7 272.5 L470.5 304.1 L482.3 327 L493.8 347.7 L504.5 364.6 L515 378.5 L524.5 387.5 L536.3 397.2 L547.5 404.3 L559 410.1 L570.1 414 L580.5 417.5 L592 420.4 L602.8 422.3 L614.1 424.2 L625.4 426 L636.4 426.7 L647.7 427.4 L659.2 427.5 L670.5 428 L681.4 428.5" fill="none" stroke="#000080" stroke-width="4.0" stroke-linejoin="round"/>
<circle cx="681.4" cy="428.5" r="8.3" fill="#000080"/><circle cx="679.1" cy="426.2" r="5.0" fill="url(#h)"/><circle cx="670.5" cy="428" r="8.3" fill="#000080"/><circle cx="668.2" cy="425.7" r="5.0" fill="url(#h)"/><circle cx="659.2" cy="427.5" r="8.3" fill="#000080"/><circle cx="656.9" cy="425.2" r="5.0" fill="url(#h)"/><circle cx="647.7" cy="427.4" r="8.3" fill="#000080"/><circle cx="645.4" cy="425.1" r="5.0" fill="url(#h)"/><circle cx="636.4" cy="426.7" r="8.3" fill="#000080"/><circle cx="634.1" cy="424.4" r="5.0" fill="url(#h)"/><circle cx="625.4" cy="426" r="8.3" fill="#000080"/><circle cx="623.1" cy="423.7" r="5.0" fill="url(#h)"/><circle cx="614.1" cy="424.2" r="8.3" fill="#000080"/><circle cx="611.8" cy="421.9" r="5.0" fill="url(#h)"/><circle cx="602.8" cy="422.3" r="8.3" fill="#000080"/><circle cx="600.5" cy="420" r="5.0" fill="url(#h)"/><circle cx="592" cy="420.4" r="8.3" fill="#000080"/><circle cx="589.7" cy="418.1" r="5.0" fill="url(#h)"/><circle cx="580.5" cy="417.5" r="8.3" fill="#000080"/><circle cx="578.2" cy="415.2" r="5.0" fill="url(#h)"/><circle cx="570.1" cy="414" r="8.3" fill="#000080"/><circle cx="567.8" cy="411.7" r="5.0" fill="url(#h)"/><circle cx="559" cy="410.1" r="8.3" fill="#000080"/><circle cx="556.7" cy="407.8" r="5.0" fill="url(#h)"/><circle cx="547.5" cy="404.3" r="8.3" fill="#000080"/><circle cx="545.2" cy="402" r="5.0" fill="url(#h)"/><circle cx="536.3" cy="397.2" r="8.3" fill="#000080"/><circle cx="534" cy="394.9" r="5.0" fill="url(#h)"/><circle cx="524.5" cy="387.5" r="8.3" fill="#000080"/><circle cx="522.2" cy="385.2" r="5.0" fill="url(#h)"/><circle cx="515" cy="378.5" r="8.3" fill="#000080"/><circle cx="512.7" cy="376.2" r="5.0" fill="url(#h)"/><circle cx="504.5" cy="364.6" r="8.3" fill="#000080"/><circle cx="502.2" cy="362.3" r="5.0" fill="url(#h)"/><circle cx="493.8" cy="347.7" r="8.3" fill="#000080"/><circle cx="491.5" cy="345.4" r="5.0" fill="url(#h)"/><circle cx="482.3" cy="327" r="8.3" fill="#000080"/><circle cx="480" cy="324.7" r="5.0" fill="url(#h)"/><circle cx="470.5" cy="304.1" r="8.3" fill="#000080"/><circle cx="468.2" cy="301.8" r="5.0" fill="url(#h)"/><circle cx="454.7" cy="272.5" r="8.3" fill="#000080"/><circle cx="452.4" cy="270.2" r="5.0" fill="url(#h)"/><circle cx="448.6" cy="261.9" r="8.3" fill="#000080"/><circle cx="446.3" cy="259.6" r="5.0" fill="url(#h)"/><circle cx="437.5" cy="250" r="8.3" fill="#000080"/><circle cx="435.2" cy="247.7" r="5.0" fill="url(#h)"/><circle cx="427" cy="248.3" r="8.3" fill="#000080"/><circle cx="424.7" cy="246" r="5.0" fill="url(#h)"/><circle cx="415.5" cy="256.7" r="8.3" fill="#000080"/><circle cx="413.2" cy="254.4" r="5.0" fill="url(#h)"/><circle cx="404.4" cy="272.5" r="8.3" fill="#000080"/><circle cx="402.1" cy="270.2" r="5.0" fill="url(#h)"/><circle cx="386.3" cy="304.3" r="8.3" fill="#000080"/><circle cx="384" cy="302" r="5.0" fill="url(#h)"/><circle cx="382" cy="312.6" r="8.3" fill="#000080"/><circle cx="379.7" cy="310.3" r="5.0" fill="url(#h)"/><circle cx="371.5" cy="330.5" r="8.3" fill="#000080"/><circle cx="369.2" cy="328.2" r="5.0" fill="url(#h)"/><circle cx="360.3" cy="346.5" r="8.3" fill="#000080"/><circle cx="358" cy="344.2" r="5.0" fill="url(#h)"/><circle cx="349" cy="359.8" r="8.3" fill="#000080"/><circle cx="346.7" cy="357.5" r="5.0" fill="url(#h)"/><circle cx="338" cy="369" r="8.3" fill="#000080"/><circle cx="335.7" cy="366.7" r="5.0" fill="url(#h)"/><circle cx="327.2" cy="377" r="8.3" fill="#000080"/><circle cx="324.9" cy="374.7" r="5.0" fill="url(#h)"/><circle cx="317.5" cy="381" r="8.3" fill="#000080"/><circle cx="315.2" cy="378.7" r="5.0" fill="url(#h)"/><circle cx="312.5" cy="383.3" r="8.3" fill="#000080"/><circle cx="310.2" cy="381" r="5.0" fill="url(#h)"/><circle cx="305.2" cy="386.5" r="8.3" fill="#000080"/><circle cx="302.9" cy="384.2" r="5.0" fill="url(#h)"/><circle cx="294.5" cy="388.7" r="8.3" fill="#000080"/><circle cx="292.2" cy="386.4" r="5.0" fill="url(#h)"/><circle cx="283.6" cy="389.5" r="8.3" fill="#000080"/><circle cx="281.3" cy="387.2" r="5.0" fill="url(#h)"/><circle cx="272.3" cy="389.8" r="8.3" fill="#000080"/><circle cx="270" cy="387.5" r="5.0" fill="url(#h)"/><circle cx="261.4" cy="389.5" r="8.3" fill="#000080"/><circle cx="259.1" cy="387.2" r="5.0" fill="url(#h)"/><circle cx="250.3" cy="389.3" r="8.3" fill="#000080"/><circle cx="248" cy="387" r="5.0" fill="url(#h)"/><circle cx="239.2" cy="387.8" r="8.3" fill="#000080"/><circle cx="236.9" cy="385.5" r="5.0" fill="url(#h)"/><circle cx="227.6" cy="385.5" r="8.3" fill="#000080"/><circle cx="225.3" cy="383.2" r="5.0" fill="url(#h)"/><circle cx="216.3" cy="382.4" r="8.3" fill="#000080"/><circle cx="214" cy="380.1" r="5.0" fill="url(#h)"/><circle cx="206" cy="379.6" r="8.3" fill="#000080"/><circle cx="203.7" cy="377.3" r="5.0" fill="url(#h)"/><circle cx="194.4" cy="375.8" r="8.3" fill="#000080"/><circle cx="192.1" cy="373.5" r="5.0" fill="url(#h)"/><circle cx="181" cy="372.5" r="8.3" fill="#000080"/><circle cx="178.7" cy="370.2" r="5.0" fill="url(#h)"/><circle cx="172" cy="370" r="8.3" fill="#000080"/><circle cx="169.7" cy="367.7" r="5.0" fill="url(#h)"/><circle cx="161.3" cy="366.5" r="8.3" fill="#000080"/><circle cx="159" cy="364.2" r="5.0" fill="url(#h)"/><circle cx="150" cy="362" r="8.3" fill="#000080"/><circle cx="147.7" cy="359.7" r="5.0" fill="url(#h)"/><circle cx="138.7" cy="358.5" r="8.3" fill="#000080"/><circle cx="136.4" cy="356.2" r="5.0" fill="url(#h)"/><circle cx="127.8" cy="354.5" r="8.3" fill="#000080"/><circle cx="125.5" cy="352.2" r="5.0" fill="url(#h)"/><circle cx="116.6" cy="349" r="8.3" fill="#000080"/><circle cx="114.3" cy="346.7" r="5.0" fill="url(#h)"/><circle cx="111.4" cy="345.2" r="8.3" fill="#000080"/><circle cx="109.1" cy="342.9" r="5.0" fill="url(#h)"/>
</g>
<g fill="#000"><rect x="104" y="0" width="2" height="458" fill="#1e1e1e"/><rect x="100.5" y="456" width="584.5" height="2"/><rect x="101" y="0" width="584" height="2"/><rect x="683" y="0" width="2" height="458"/><rect x="96.5" y="427.4" width="8" height="2"/><rect x="100.5" y="398.91" width="4" height="2"/><rect x="96.5" y="370.42" width="8" height="2"/><rect x="100.5" y="341.93" width="4" height="2"/><rect x="96.5" y="313.44" width="8" height="2"/><rect x="100.5" y="284.95" width="4" height="2"/><rect x="96.5" y="256.46" width="8" height="2"/><rect x="100.5" y="227.97" width="4" height="2"/><rect x="96.5" y="199.48" width="8" height="2"/><rect x="100.5" y="170.99" width="4" height="2"/><rect x="96.5" y="142.5" width="8" height="2"/><rect x="100.5" y="114.01" width="4" height="2"/><rect x="96.5" y="85.52" width="8" height="2"/><rect x="100.5" y="57.03" width="4" height="2"/><rect x="96.5" y="28.54" width="8" height="2"/><rect x="100.5" y="0.05" width="4" height="2"/><rect x="104.16" y="457" width="2" height="5"/><rect x="107.66" y="457" width="2" height="5"/><rect x="110.8" y="457" width="2" height="9"/><rect x="131.43" y="457" width="2" height="5"/><rect x="143.5" y="457" width="2" height="5"/><rect x="152.07" y="457" width="2" height="5"/><rect x="158.71" y="457" width="2" height="5"/><rect x="164.13" y="457" width="2" height="5"/><rect x="168.72" y="457" width="2" height="5"/><rect x="172.7" y="457" width="2" height="5"/><rect x="176.2" y="457" width="2" height="5"/><rect x="179.34" y="457" width="2" height="9"/><rect x="199.97" y="457" width="2" height="5"/><rect x="212.04" y="457" width="2" height="5"/><rect x="220.61" y="457" width="2" height="5"/><rect x="227.25" y="457" width="2" height="5"/><rect x="232.67" y="457" width="2" height="5"/><rect x="237.26" y="457" width="2" height="5"/><rect x="241.24" y="457" width="2" height="5"/><rect x="244.74" y="457" width="2" height="5"/><rect x="247.88" y="457" width="2" height="9"/><rect x="268.51" y="457" width="2" height="5"/><rect x="280.58" y="457" width="2" height="5"/><rect x="289.15" y="457" width="2" height="5"/><rect x="295.79" y="457" width="2" height="5"/><rect x="301.21" y="457" width="2" height="5"/><rect x="305.8" y="457" width="2" height="5"/><rect x="309.78" y="457" width="2" height="5"/><rect x="313.28" y="457" width="2" height="5"/><rect x="316.42" y="457" width="2" height="9"/><rect x="337.05" y="457" width="2" height="5"/><rect x="349.12" y="457" width="2" height="5"/><rect x="357.69" y="457" width="2" height="5"/><rect x="364.33" y="457" width="2" height="5"/><rect x="369.75" y="457" width="2" height="5"/><rect x="374.34" y="457" width="2" height="5"/><rect x="378.32" y="457" width="2" height="5"/><rect x="381.82" y="457" width="2" height="5"/><rect x="384.96" y="457" width="2" height="9"/><rect x="405.59" y="457" width="2" height="5"/><rect x="417.66" y="457" width="2" height="5"/><rect x="426.23" y="457" width="2" height="5"/><rect x="432.87" y="457" width="2" height="5"/><rect x="438.29" y="457" width="2" height="5"/><rect x="442.88" y="457" width="2" height="5"/><rect x="446.86" y="457" width="2" height="5"/><rect x="450.36" y="457" width="2" height="5"/><rect x="453.5" y="457" width="2" height="9"/><rect x="474.13" y="457" width="2" height="5"/><rect x="486.2" y="457" width="2" height="5"/><rect x="494.77" y="457" width="2" height="5"/><rect x="501.41" y="457" width="2" height="5"/><rect x="506.83" y="457" width="2" height="5"/><rect x="511.42" y="457" width="2" height="5"/><rect x="515.4" y="457" width="2" height="5"/><rect x="518.9" y="457" width="2" height="5"/><rect x="522.04" y="457" width="2" height="9"/><rect x="542.67" y="457" width="2" height="5"/><rect x="554.74" y="457" width="2" height="5"/><rect x="563.31" y="457" width="2" height="5"/><rect x="569.95" y="457" width="2" height="5"/><rect x="575.37" y="457" width="2" height="5"/><rect x="579.96" y="457" width="2" height="5"/><rect x="583.94" y="457" width="2" height="5"/><rect x="587.44" y="457" width="2" height="5"/><rect x="590.58" y="457" width="2" height="9"/><rect x="611.21" y="457" width="2" height="5"/><rect x="623.28" y="457" width="2" height="5"/><rect x="631.85" y="457" width="2" height="5"/><rect x="638.49" y="457" width="2" height="5"/><rect x="643.91" y="457" width="2" height="5"/><rect x="648.5" y="457" width="2" height="5"/><rect x="652.48" y="457" width="2" height="5"/><rect x="655.98" y="457" width="2" height="5"/><rect x="659.12" y="457" width="2" height="9"/><rect x="679.75" y="457" width="2" height="5"/></g>
<text transform="translate(111.8,483.8) scale(0.95,1)" font-size="17.2" text-anchor="middle">100m</text><text transform="translate(180.34,483.8) scale(0.95,1)" font-size="17.2" text-anchor="middle">1</text><text transform="translate(248.88,483.8) scale(0.95,1)" font-size="17.2" text-anchor="middle">10</text><text transform="translate(317.42,483.8) scale(0.95,1)" font-size="17.2" text-anchor="middle">100</text><text transform="translate(385.96,483.8) scale(0.95,1)" font-size="17.2" text-anchor="middle">1k</text><text transform="translate(454.5,483.8) scale(0.95,1)" font-size="17.2" text-anchor="middle">10k</text><text transform="translate(523.04,483.8) scale(0.95,1)" font-size="17.2" text-anchor="middle">100k</text><text transform="translate(591.58,483.8) scale(0.95,1)" font-size="17.2" text-anchor="middle">1M</text><text transform="translate(660.12,483.8) scale(0.95,1)" font-size="17.2" text-anchor="middle">10M</text>
<text transform="translate(92,433.3) scale(0.95,1)" font-size="17.2" text-anchor="end">0.0</text><text transform="translate(92.3,377.92) scale(0.95,1)" font-size="17.2" text-anchor="end">2.0x10<tspan font-size="10.8" dy="-8.4">5</tspan></text><text transform="translate(92.3,320.94) scale(0.95,1)" font-size="17.2" text-anchor="end">4.0x10<tspan font-size="10.8" dy="-8.4">5</tspan></text><text transform="translate(92.3,263.96) scale(0.95,1)" font-size="17.2" text-anchor="end">6.0x10<tspan font-size="10.8" dy="-8.4">5</tspan></text><text transform="translate(92.3,206.98) scale(0.95,1)" font-size="17.2" text-anchor="end">8.0x10<tspan font-size="10.8" dy="-8.4">5</tspan></text><text transform="translate(92.3,150) scale(0.95,1)" font-size="17.2" text-anchor="end">1.0x10<tspan font-size="10.8" dy="-8.4">6</tspan></text><text transform="translate(92.3,93.02) scale(0.95,1)" font-size="17.2" text-anchor="end">1.2x10<tspan font-size="10.8" dy="-8.4">6</tspan></text><text transform="translate(92.3,36.04) scale(0.95,1)" font-size="17.2" text-anchor="end">1.4x10<tspan font-size="10.8" dy="-8.4">6</tspan></text>
<text transform="translate(16,388) rotate(-90)" font-size="22" font-weight="bold" textLength="361" lengthAdjust="spacingAndGlyphs">Imaginary part of impedance(Z``)</text>
<text x="385.8" y="524" font-size="26.6" font-weight="bold" text-anchor="middle">f(Hz)</text>
<rect x="592.3" y="1" width="90.2" height="122.3" fill="#fff" stroke="#222" stroke-width="1.1"/>
<rect x="101" y="0" width="584" height="2" fill="#000"/><rect x="683" y="0" width="2" height="125" fill="#000"/>
<line x1="593.6" y1="11.5" x2="629.6" y2="11.5" stroke="#000000" stroke-width="3.6" stroke-linecap="round"/><circle cx="612" cy="11.5" r="8.3" fill="#000000"/><circle cx="609.7" cy="9.2" r="5.0" fill="url(#h)"/><text x="633.6" y="17.2" font-size="15.6">x=0.0</text>
<line x1="593.6" y1="31.7" x2="629.6" y2="31.7" stroke="#ff0000" stroke-width="3.6" stroke-linecap="round"/><circle cx="612" cy="31.7" r="8.3" fill="#ff0000"/><circle cx="609.7" cy="29.4" r="5.0" fill="url(#h)"/><text x="633.6" y="37.4" font-size="15.6">x=0.02</text>
<line x1="593.6" y1="51.9" x2="629.6" y2="51.9" stroke="#0000ff" stroke-width="3.6" stroke-linecap="round"/><circle cx="612" cy="51.9" r="8.3" fill="#0000ff"/><circle cx="609.7" cy="49.6" r="5.0" fill="url(#h)"/><text x="633.6" y="57.6" font-size="15.6">x=0.04</text>
<line x1="593.6" y1="72.1" x2="629.6" y2="72.1" stroke="#ff00ff" stroke-width="3.6" stroke-linecap="round"/><circle cx="612" cy="72.1" r="8.3" fill="#ff00ff"/><circle cx="609.7" cy="69.8" r="5.0" fill="url(#h)"/><text x="633.6" y="77.8" font-size="15.6">x=0.06</text>
<line x1="593.6" y1="92.3" x2="629.6" y2="92.3" stroke="#008000" stroke-width="3.6" stroke-linecap="round"/><circle cx="612" cy="92.3" r="8.3" fill="#008000"/><circle cx="609.7" cy="90" r="5.0" fill="url(#h)"/><text x="633.6" y="98" font-size="15.6">x=0.08</text>
<line x1="593.6" y1="112.5" x2="629.6" y2="112.5" stroke="#000080" stroke-width="3.6" stroke-linecap="round"/><circle cx="612" cy="112.5" r="8.3" fill="#000080"/><circle cx="609.7" cy="110.2" r="5.0" fill="url(#h)"/><text x="633.6" y="118.2" font-size="15.6">x=0.1</text>
</svg></body></html>
